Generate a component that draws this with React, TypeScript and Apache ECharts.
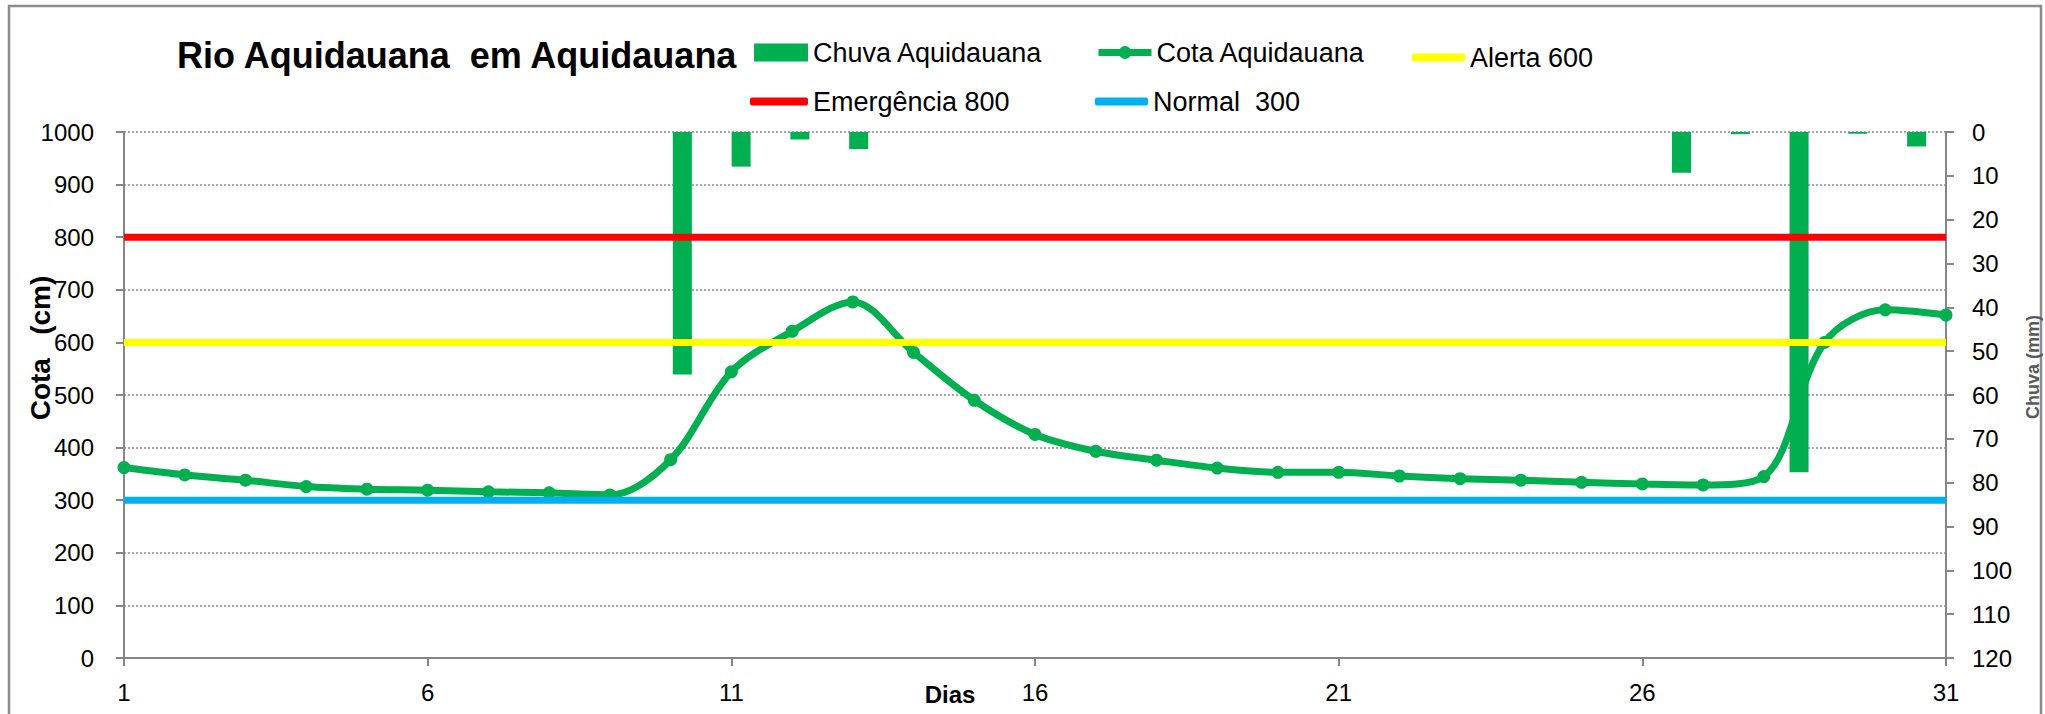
import React, { useEffect, useRef } from "react";
import * as echarts from "echarts";

const dias = ["1","2","3","4","5","6","7","8","9","10","11","12","13","14","15","16","17","18","19","20","21","22","23","24","25","26","27","28","29","30","31"];
const cotaAquidauana = [362, 348, 338, 326, 321, 319, 316, 314, 310, 377, 544, 621, 677, 581, 490, 425, 393, 376, 361, 353, 353, 346, 341, 338, 334, 331, 329, 345, 600, 662, 652];
const chuvaAquidauana = [0, 0, 0, 0, 0, 0, 0, 0, 0, 55.3, 7.9, 1.7, 3.9, 0, 0, 0, 0, 0, 0, 0, 0, 0, 0, 0, 0, 0, 9.3, 0.5, 77.6, 0.4, 3.3];
const ALERTA = 600;
const EMERGENCIA = 800;
const NORMAL = 300;
const cotaTicks = { min: 0, max: 1000, interval: 100 };
const chuvaTicks = { min: 0, max: 120, interval: 10 };

const FONT = "'Liberation Sans', Arial, sans-serif";
const AXIS_GRAY = "#868686";
const GREEN = "#00B050";

function legendAt(name: string, left: number, top: number, w: number, h: number, icon?: string, extra?: any) {
  return {
    data: [icon ? { name, icon } : { name }],
    left,
    top,
    padding: 0,
    itemWidth: w,
    itemHeight: h,
    selectedMode: false,
    textStyle: { fontFamily: FONT, fontSize: 27, color: "#000" },
    ...(extra || {}),
  };
}

export default function App() {
  const ref = useRef<HTMLDivElement>(null);
  useEffect(() => {
    if (!ref.current) return;
    const chart = echarts.init(ref.current, null, { renderer: "svg" });
    const first = dias[0];
    const last = dias[dias.length - 1];
    chart.setOption({
      animation: false,
      backgroundColor: "#fff",
      title: {
        text: "Rio Aquidauana  em Aquidauana",
        left: 172,
        top: 32,
        textStyle: { fontFamily: FONT, fontSize: 36, fontWeight: "bold", color: "#000" },
      },
      legend: [
        legendAt("Chuva Aquidauana", 754, 39, 54, 18, "rect"),
        legendAt("Cota Aquidauana", 1095, 39, 53, 16, undefined, { lineStyle: { width: 7 } }),
        legendAt("Alerta 600", 1412, 44, 53, 8, "roundRect"),
        legendAt("Emergência 800", 750, 88, 58, 8, "roundRect"),
        legendAt("Normal  300", 1095, 88, 53, 8, "roundRect"),
      ],
      grid: { left: 124, right: 99, top: 132, bottom: 56, containLabel: false },
      xAxis: [
        {
          type: "category",
          data: dias,
          boundaryGap: false,
          axisLine: { onZero: false, lineStyle: { color: AXIS_GRAY, width: 2 } },
          axisTick: { interval: 4, length: 8, lineStyle: { color: AXIS_GRAY, width: 2 } },
          axisLabel: { interval: 4, margin: 22, fontFamily: FONT, fontSize: 24, color: "#000" },
          splitLine: { show: false },
        },
        {
          type: "category",
          data: dias,
          boundaryGap: true,
          show: false,
          position: "bottom",
        },
      ],
      yAxis: [
        {
          type: "value",
          ...cotaTicks,
          position: "left",
          axisLine: { show: true, lineStyle: { color: AXIS_GRAY, width: 2 } },
          axisTick: { show: true, length: 8, lineStyle: { color: AXIS_GRAY, width: 2 } },
          axisLabel: { margin: 30, fontFamily: FONT, fontSize: 24, color: "#000", formatter: (v: number) => String(v) },
          splitLine: { show: true, lineStyle: { color: "#8a8a8a", width: 1.5, type: [2, 2] } },
        },
        {
          type: "value",
          ...chuvaTicks,
          position: "right",
          inverse: true,
          axisLine: { show: true, lineStyle: { color: AXIS_GRAY, width: 2 } },
          axisTick: { show: true, length: 8, lineStyle: { color: AXIS_GRAY, width: 2 } },
          axisLabel: { margin: 26, fontFamily: FONT, fontSize: 24, color: "#000", formatter: (v: number) => String(v) },
          splitLine: { show: false },
        },
      ],
      graphic: [
        {
          type: "rect",
          shape: { x: 9, y: 6, width: 2032, height: 720 },
          style: { fill: "none", stroke: "#8c8c8c", lineWidth: 2.5 },
          silent: true,
        },
        {
          type: "text",
          x: 40,
          y: 348,
          rotation: Math.PI / 2,
          style: { text: "Cota   (cm)", fontFamily: FONT, fontSize: 28, fontWeight: "bold", fill: "#000", align: "center", verticalAlign: "middle" },
        },
        {
          type: "text",
          x: 2033,
          y: 367,
          rotation: Math.PI / 2,
          style: { text: "Chuva (mm)", fontFamily: FONT, fontSize: 18, fontWeight: "bold", fill: "#595959", align: "center", verticalAlign: "middle" },
        },
        {
          type: "text",
          x: 950,
          y: 694,
          style: { text: "Dias", fontFamily: FONT, fontSize: 24, fontWeight: "bold", fill: "#000", align: "center", verticalAlign: "middle" },
        },
      ],
      series: [
        {
          name: "Chuva Aquidauana",
          type: "bar",
          xAxisIndex: 1,
          yAxisIndex: 1,
          data: chuvaAquidauana,
          barWidth: 19,
          itemStyle: { color: GREEN },
          z: 1,
        },
        {
          name: "Cota Aquidauana",
          type: "line",
          xAxisIndex: 0,
          yAxisIndex: 0,
          data: cotaAquidauana,
          smooth: 0.33,
          symbol: "circle",
          symbolSize: 13,
          lineStyle: { color: GREEN, width: 7 },
          itemStyle: { color: GREEN },
          z: 2,
        },
        {
          name: "Alerta 600",
          type: "line",
          data: [[first, ALERTA], [last, ALERTA]],
          symbol: "none",
          lineStyle: { color: "#FFFF00", width: 7 },
          itemStyle: { color: "#FFFF00" },
          z: 3,
        },
        {
          name: "Emergência 800",
          type: "line",
          data: [[first, EMERGENCIA], [last, EMERGENCIA]],
          symbol: "none",
          lineStyle: { color: "#FF0000", width: 7 },
          itemStyle: { color: "#FF0000" },
          z: 3,
        },
        {
          name: "Normal  300",
          type: "line",
          data: [[first, NORMAL], [last, NORMAL]],
          symbol: "none",
          lineStyle: { color: "#00B0F0", width: 7 },
          itemStyle: { color: "#00B0F0" },
          z: 3,
        },
      ],
    });
    return () => chart.dispose();
  }, []);
  return (
    <div
      ref={ref}
      style={{ position: "fixed", left: 0, top: 0, width: 2045, height: 714, background: "#fff" }}
    />
  );
}
